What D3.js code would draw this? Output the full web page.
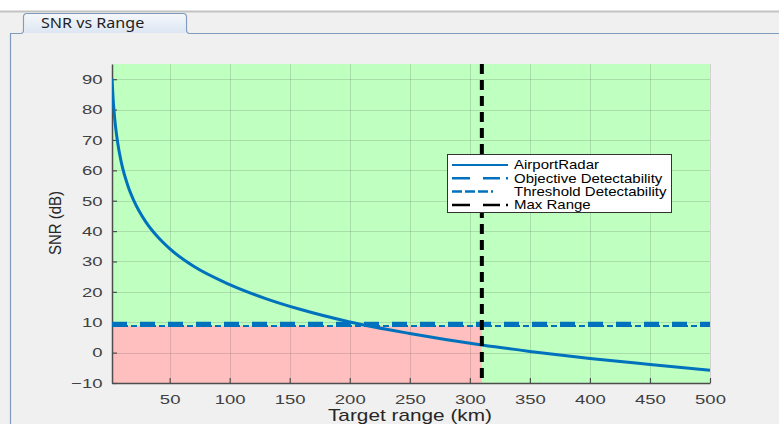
<!DOCTYPE html>
<html>
<head>
<meta charset="utf-8">
<script src="https://cdn.jsdelivr.net/npm/d3@7"></script>
<style>
  body { margin: 0; background: #f0f0f0; }
  svg { display: block; }
</style>
</head>
<body>
<svg id="chart" width="779" height="424"></svg>
<script>
// values
var rangeKm = [2, 3, 4, 5, 7, 10, 15, 20, 30, 40, 50, 70, 100, 130, 160, 200, 250, 310, 350, 400, 450, 500];
var snrDb   = [90.2, 83.1, 78.1, 74.2, 68.4, 62.2, 55.2, 50.2, 43.1, 38.1, 34.2, 28.4, 22.4, 17.8, 14.1, 10.1, 6.3, 2.5, 0.4, -1.9, -3.9, -5.8];
var objectiveDb = 9.5;
var thresholdDb = 8.8;
var maxRangeKm = 310;
var xTicks = [50, 100, 150, 200, 250, 300, 350, 400, 450, 500];
var yTicks = [-10, 0, 10, 20, 30, 40, 50, 60, 70, 80, 90];
var legendNames = ["AirportRadar", "Objective Detectability", "Threshold Detectability", "Max Range"];

var svg = d3.select("#chart");
var blue = "#0072bd";
var axisFont = "Liberation Sans, Arial, sans-serif";

// the screenshot is a little stretched sideways, so text is widened
function stretch(sel, sx, x) {
  sel.attr("x", x / sx).attr("transform", "scale(" + sx + ",1)");
}

// window / tab panel
svg.append("rect").attr("x", 0).attr("y", 0).attr("width", 779).attr("height", 11).attr("fill", "#ffffff");
svg.append("line").attr("x1", 0).attr("x2", 779).attr("y1", 11.5).attr("y2", 11.5).attr("stroke", "#c3c3c3").attr("stroke-width", 2);

var grad = svg.append("defs").append("linearGradient").attr("id", "tabg").attr("x1", 0).attr("x2", 0).attr("y1", 0).attr("y2", 1);
grad.append("stop").attr("offset", "0%").attr("stop-color", "#f4f7fb");
grad.append("stop").attr("offset", "100%").attr("stop-color", "#dce6f2");

svg.append("path")
  .attr("d", "M10.5,424 V33.5 H20.5 Q23.5,33.5 23.5,30 V17 Q23.5,13.5 27,13.5 H183 Q186.5,13.5 186.5,17 V30 Q186.5,33.5 190,33.5 H779")
  .attr("fill", "none").attr("stroke", "#7f9bbd").attr("stroke-width", 1.2);
svg.append("path")
  .attr("d", "M24.5,33 V17 Q24.5,14.5 27,14.5 H183 Q185.5,14.5 185.5,17 V33 Z")
  .attr("fill", "url(#tabg)");
svg.append("text").attr("y", 28).text("SNR vs Range")
  .attr("font-family", "Noto Sans, sans-serif").attr("font-size", 14).attr("fill", "#1e1e1e")
  .call(stretch, 1.15, 41);

// scales
var x = d3.scaleLinear().domain([2, 500]).range([112, 710]);
var y = d3.scaleLinear().domain([-10, 95]).range([383, 64]);

// backgrounds
svg.append("rect").attr("x", x(2)).attr("y", y(95)).attr("width", x(500) - x(2)).attr("height", y(-10) - y(95))
  .attr("fill", "#bfffbf");
svg.append("rect").attr("x", x(2)).attr("y", y(thresholdDb)).attr("width", x(maxRangeKm) - x(2))
  .attr("height", y(-10) - y(thresholdDb)).attr("fill", "#ffbfbf");

// grid
var grid = svg.append("g").attr("stroke", "#262626").attr("stroke-opacity", 0.15).attr("stroke-width", 1);
grid.selectAll("line.gx").data(xTicks).enter().append("line")
  .attr("x1", function(d) { return Math.round(x(d)) + 0.5; }).attr("x2", function(d) { return Math.round(x(d)) + 0.5; })
  .attr("y1", y(95)).attr("y2", y(-10));
grid.selectAll("line.gy").data(yTicks).enter().append("line")
  .attr("y1", function(d) { return Math.round(y(d)) + 0.5; }).attr("y2", function(d) { return Math.round(y(d)) + 0.5; })
  .attr("x1", x(2)).attr("x2", x(500));

// axes
var xAxis = svg.append("g").attr("transform", "translate(0," + y(-10) + ")")
  .call(d3.axisBottom(x).tickValues(xTicks).tickSizeInner(-5).tickSizeOuter(0).tickPadding(11));
var yAxis = svg.append("g").attr("transform", "translate(" + x(2) + ",0)")
  .call(d3.axisLeft(y).tickValues(yTicks).tickSizeInner(-5).tickSizeOuter(0).tickPadding(9));
[xAxis, yAxis].forEach(function(a) {
  a.select(".domain").attr("stroke", "#4d4d4d").attr("stroke-width", 1.5);
  a.selectAll(".tick line").attr("stroke", "#4d4d4d").attr("stroke-width", 1.2);
  a.selectAll("text").attr("font-family", axisFont).attr("font-size", 13.5).attr("fill", "#404040");
});
xAxis.selectAll(".tick text").call(stretch, 1.37, 0);
yAxis.selectAll(".tick text").call(stretch, 1.37, -9.5);

svg.append("text").attr("y", 421).attr("text-anchor", "middle")
  .attr("font-family", axisFont).attr("font-size", 16).attr("fill", "#262626").text("Target range (km)")
  .call(stretch, 1.3, 410);
svg.append("text").attr("transform", "translate(61,223) rotate(-90) scale(1,1.15)").attr("text-anchor", "middle")
  .attr("font-family", axisFont).attr("font-size", 15).attr("fill", "#262626").text("SNR (dB)");

// plot lines
svg.append("clipPath").attr("id", "clip").append("rect")
  .attr("x", x(2)).attr("y", y(95)).attr("width", x(500) - x(2)).attr("height", y(-10) - y(95));
var plot = svg.append("g").attr("clip-path", "url(#clip)");

plot.append("line").attr("x1", x(2)).attr("x2", x(500)).attr("y1", y(thresholdDb)).attr("y2", y(thresholdDb))
  .attr("stroke", blue).attr("stroke-width", 2).attr("stroke-dasharray", "16,3,6,3");
plot.append("line").attr("x1", x(2)).attr("x2", x(500)).attr("y1", y(objectiveDb)).attr("y2", y(objectiveDb))
  .attr("stroke", blue).attr("stroke-width", 4).attr("stroke-dasharray", "15,13");

var pts = rangeKm.map(function(r, i) { return [r, snrDb[i]]; });
plot.append("path").datum(pts)
  .attr("d", d3.line().x(function(d) { return x(d[0]); }).y(function(d) { return y(d[1]); }).curve(d3.curveMonotoneX))
  .attr("fill", "none").attr("stroke", blue).attr("stroke-width", 3);

plot.append("line").attr("x1", x(maxRangeKm)).attr("x2", x(maxRangeKm)).attr("y1", y(95)).attr("y2", y(-10))
  .attr("stroke", "#000").attr("stroke-width", 4).attr("stroke-dasharray", "10,6");

// legend
var lg = svg.append("g");
lg.append("rect").attr("x", 447.5).attr("y", 154.5).attr("width", 224).attr("height", 58)
  .attr("fill", "#fff").attr("stroke", "#333").attr("stroke-width", 1);
var legendStyles = [
  { color: blue, dash: null, w: 2 },
  { color: blue, dash: "18,13,17,6,2,100", w: 2.5 },
  { color: blue, dash: "10,3,10,3,10,3,2,100", w: 2.5 },
  { color: "#000", dash: "18,13,17,6,2,100", w: 2.5 }
];
lg.selectAll("line.ls").data(legendNames).enter().append("line")
  .attr("x1", 452).attr("x2", 508)
  .attr("y1", function(d, i) { return 165 + i * 13.3; }).attr("y2", function(d, i) { return 165 + i * 13.3; })
  .attr("stroke", function(d, i) { return legendStyles[i].color; })
  .attr("stroke-width", function(d, i) { return legendStyles[i].w; })
  .attr("stroke-dasharray", function(d, i) { return legendStyles[i].dash; });
lg.selectAll("text.lt").data(legendNames).enter().append("text")
  .attr("y", function(d, i) { return 169.5 + i * 13.3; })
  .attr("font-family", axisFont).attr("font-size", 12.5).attr("fill", "#000").text(function(d) { return d; })
  .call(stretch, 1.2, 514);
</script>
</body>
</html>
